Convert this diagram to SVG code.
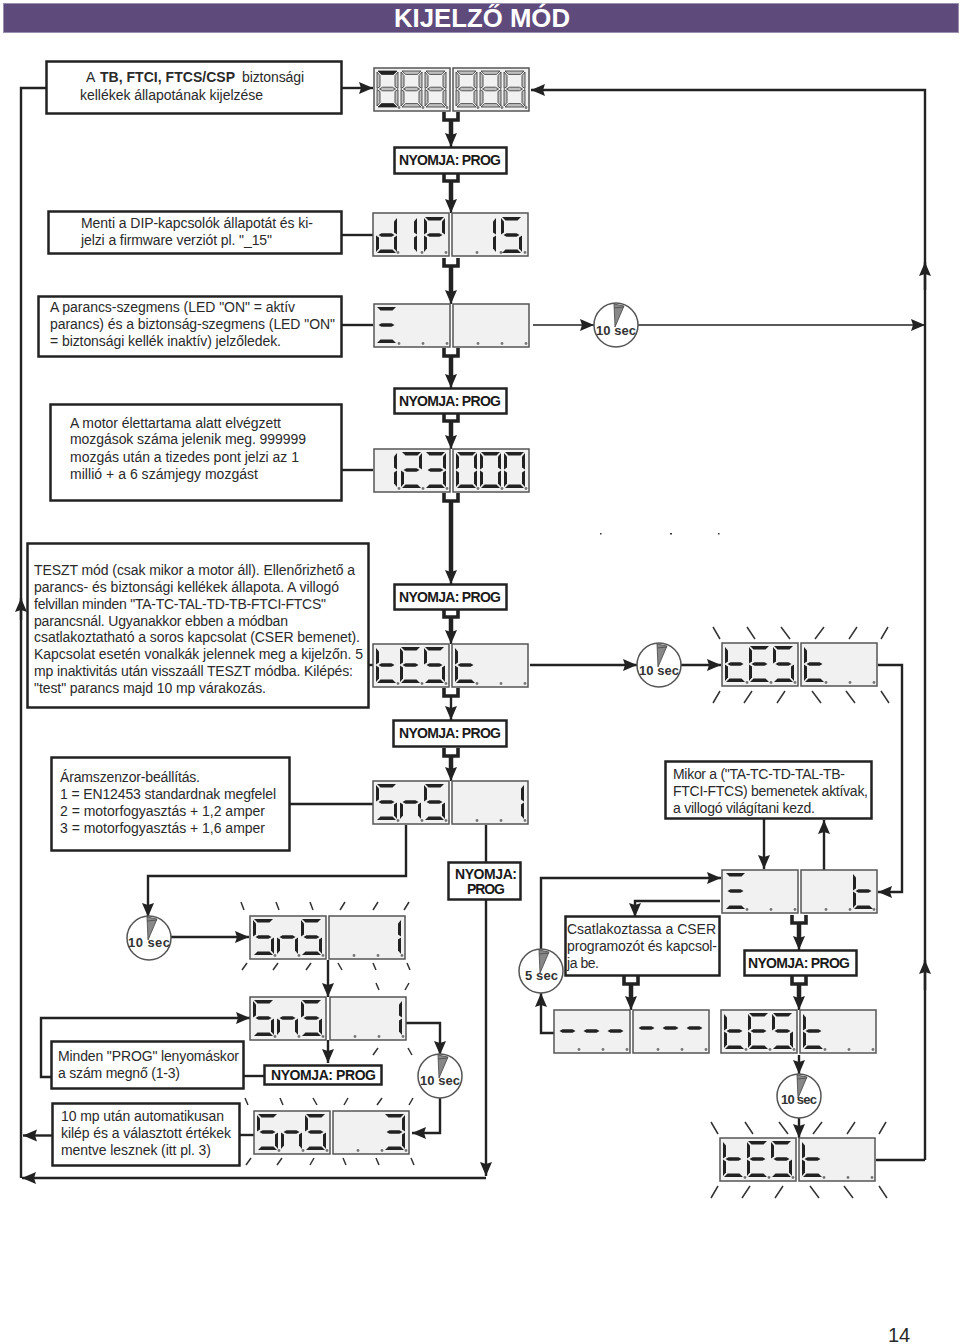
<svg xmlns="http://www.w3.org/2000/svg" width="960" height="1344" viewBox="0 0 960 1344">
<style>
text{font-family:"Liberation Sans",Arial,sans-serif;fill:#2a2a2a;font-size:14px}
.title{font-size:25px;font-weight:bold;fill:#fff}
.btn{font-size:14px;font-weight:bold;fill:#1a1a1a}
.box{fill:#fff;stroke:#222;stroke-width:2.5}
.panel{fill:#f1f1f1;stroke:#555;stroke-width:1.5}
.dot{fill:#777}
.seg{fill:#222}
.gs{fill:#c0c0c0;stroke:#333;stroke-width:.8}
.ln{fill:none;stroke:#222;stroke-width:2.4}
.thin{fill:none;stroke:#222;stroke-width:1.6}
.th{fill:none;stroke:#222;stroke-width:4.5}
.uu{fill:none;stroke:#222;stroke-width:3.6}
.tick{fill:none;stroke:#333;stroke-width:1.5}
.clk{fill:#fff;stroke:#555;stroke-width:1.5}
.wd{fill:#888;stroke:#444;stroke-width:.8}
.sec{font-size:13px;font-weight:bold;fill:#333}
</style>
<defs>
<marker id="a" markerUnits="userSpaceOnUse" markerWidth="15" markerHeight="13" refX="14" refY="6" orient="auto"><path d="M0,0L14,6L0,12L2,6Z" fill="#222"/></marker>
<path id="sa" d="M1,0H20L16.500,3.400H4.500Z"/><path id="sd" d="M1,36H20L16.500,32.600H4.500Z"/><path id="sg" d="M2.500,18L5.500,16.200H15.500L18.500,18L15.500,19.800H5.500Z"/>
<path id="sf" d="M0,1L3,4.500V15.500L0,17.500Z"/><path id="sb" d="M21,1L18,4.500V15.500L21,17.500Z"/>
<path id="se" d="M0,18.500L3,20.500V31.500L0,35Z"/><path id="sc" d="M21,18.500L18,20.500V31.500L21,35Z"/>
<g id="dt" class="seg"><use href="#sf"/><use href="#se"/><use href="#sg"/><use href="#sd"/></g>
<g id="dE" class="seg"><use href="#sa"/><use href="#sf"/><use href="#se"/><use href="#sg"/><use href="#sd"/></g>
<g id="d5" class="seg"><use href="#sa"/><use href="#sf"/><use href="#sc"/><use href="#sg"/><use href="#sd"/></g>
<g id="dn" class="seg"><use href="#se"/><use href="#sc"/><use href="#sg"/></g>
<g id="dd" class="seg"><use href="#sb"/><use href="#sc"/><use href="#se"/><use href="#sg"/><use href="#sd"/></g>
<g id="dP" class="seg"><use href="#sa"/><use href="#sb"/><use href="#sf"/><use href="#se"/><use href="#sg"/></g>
<g id="d1" class="seg"><use href="#sb"/><use href="#sc"/></g>
<g id="d2" class="seg"><use href="#sa"/><use href="#sb"/><use href="#se"/><use href="#sg"/><use href="#sd"/></g>
<g id="d3" class="seg"><use href="#sa"/><use href="#sb"/><use href="#sc"/><use href="#sg"/><use href="#sd"/></g>
<g id="d0" class="seg"><use href="#sa"/><use href="#sb"/><use href="#sc"/><use href="#sd"/><use href="#se"/><use href="#sf"/></g>
<g id="dx" class="seg"><use href="#sa"/><use href="#sg"/><use href="#sd"/></g>
<g id="dm" class="seg"><use href="#sg"/></g>
<g id="d8" class="gs"><use href="#sa"/><use href="#sb"/><use href="#sc"/><use href="#sd"/><use href="#se"/><use href="#sf"/><use href="#sg"/></g>
<g id="pn"><rect class="panel" x="0" y="0" width="76" height="43"/><circle class="dot" cx="25" cy="39.500" r="1.400"/><circle class="dot" cx="49" cy="39.500" r="1.400"/><circle class="dot" cx="73" cy="39.500" r="1.400"/></g>
<path id="u" class="uu" d="M-7,0V8H7V0"/>
<g id="clock"><circle class="clk" r="22"/><path class="wd" d="M-1,2L-2,-21L8,-19Z"/><path d="M-2,-17L8,-18" stroke="#555" fill="none"/></g>
<g id="tk"><path class="tick" d="M-9,-16L-2,-4M25,-16L33,-4M59,-16L68,-4M102,-16L93,-4M135,-16L127,-4M166,-16L159,-4M-2,48L-9,60M30,48L22,60M63,48L55,60M90,48L99,60M124,48L133,60M159,48L167,60"/></g>
</defs>

<rect id="header" x="3.500" y="3.500" width="955" height="29" fill="#5f4a7c" stroke="#9a90ad"/>
<text class="title" x="394" y="27" textLength="176" lengthAdjust="spacingAndGlyphs">KIJELZŐ MÓD</text>

<g id="connectors">
<path class="ln" d="M46,88H21V1178"/>
<path class="ln" d="M21,620V598" marker-end="url(#a)"/>
<path class="ln" d="M486,1178H22" marker-end="url(#a)"/>
<path class="ln" d="M52,1135.500H23" marker-end="url(#a)"/>
<path class="ln" d="M342,88H373" marker-end="url(#a)"/>
<path class="ln" d="M925,1160V90H531" marker-end="url(#a)"/>
<path class="ln" d="M876,1160H925"/>
<path class="ln" d="M925,290V262" marker-end="url(#a)"/>
<path class="ln" d="M925,990V960" marker-end="url(#a)"/>
<use href="#u" x="451" y="112"/><path class="th" d="M451,120V136"/><path class="ln" d="M451,135V147" marker-end="url(#a)"/>
<use href="#u" x="451" y="173"/><path class="th" d="M451,181V202"/><path class="ln" d="M451,200V213" marker-end="url(#a)"/>
<path class="ln" d="M342,235H373"/>
<use href="#u" x="451" y="258"/><path class="th" d="M451,266V293"/><path class="ln" d="M451,290V304" marker-end="url(#a)"/>
<path class="ln" d="M342,325H373"/>
<path class="thin" d="M533,325H594" marker-end="url(#a)"/>
<path class="thin" d="M638,325H925" marker-end="url(#a)"/>
<use href="#u" x="451" y="348"/><path class="th" d="M451,356V377"/><path class="ln" d="M451,375V388" marker-end="url(#a)"/>
<use href="#u" x="451" y="413"/><path class="th" d="M451,421V438"/><path class="ln" d="M451,436V449" marker-end="url(#a)"/>
<path class="ln" d="M342,470H373"/>
<use href="#u" x="451" y="493"/><path class="th" d="M451,501V573"/><path class="ln" d="M451,570V584" marker-end="url(#a)"/>
<use href="#u" x="451" y="609"/><path class="th" d="M451,617V633"/><path class="ln" d="M451,630V644" marker-end="url(#a)"/>
<path class="ln" d="M369,665H373"/>
<path class="ln" d="M530,665H637" marker-end="url(#a)"/>
<path class="ln" d="M681,665H721" marker-end="url(#a)"/>
<use href="#u" x="451" y="688"/><path class="ln" d="M451,696V720" marker-end="url(#a)"/>
<use href="#u" x="451" y="748"/><path class="th" d="M451,756V770"/><path class="ln" d="M451,768V781" marker-end="url(#a)"/>
<path class="ln" d="M290,804H373"/>
<path class="ln" d="M406,825V876H148V917" marker-end="url(#a)"/>
<path class="ln" d="M486,825V862"/>
<path class="ln" d="M486,900V1176" marker-end="url(#a)"/>
<path class="ln" d="M171,937H249" marker-end="url(#a)"/>
<path class="ln" d="M328,960V997" marker-end="url(#a)"/>
<path class="ln" d="M328,1040V1063" marker-end="url(#a)"/>
<path class="ln" d="M244,1076H264"/>
<path class="ln" d="M51,1077H41V1018H250" marker-end="url(#a)"/>
<path class="ln" d="M406,1023H440V1055" marker-end="url(#a)"/>
<path class="ln" d="M440,1098V1133H412" marker-end="url(#a)"/>
<path class="ln" d="M240,1135H254"/>
<path class="ln" d="M764,819V869" marker-end="url(#a)"/>
<path class="ln" d="M824,870V820" marker-end="url(#a)"/>
<path class="ln" d="M878,665H902V892H878" marker-end="url(#a)"/>
<path class="ln" d="M541,950V878H721" marker-end="url(#a)"/>
<path class="ln" d="M720,901H635V917" marker-end="url(#a)"/>
<use href="#u" x="631" y="976"/><path class="th" d="M631,984V999"/><path class="ln" d="M631,997V1010" marker-end="url(#a)"/>
<path class="ln" d="M554,1033H541V993" marker-end="url(#a)"/>
<use href="#u" x="799" y="915"/><path class="th" d="M799,923V939"/><path class="ln" d="M799,937V950" marker-end="url(#a)"/>
<use href="#u" x="799" y="976"/><path class="th" d="M799,984V999"/><path class="ln" d="M799,997V1010" marker-end="url(#a)"/>
<path class="ln" d="M799,1055V1074" marker-end="url(#a)"/>
<path class="ln" d="M799,1117V1138" marker-end="url(#a)"/>
</g>

<g id="n-tb"><rect class="box" x="46.500" y="61.500" width="295" height="52"/>
<text x="86" y="82">A</text><text x="100" y="82" font-weight="bold" textLength="135">TB, FTCI, FTCS/CSP</text><text x="242" y="82" textLength="62">biztonsági</text>
<text x="80" y="100" textLength="183">kellékek állapotának kijelzése</text></g>

<g id="d-888" transform="translate(374,68)"><use href="#pn"/><use href="#pn" x="79"/>
<use href="#d8" x="3" y="3"/><use href="#d8" x="27" y="3"/><use href="#d8" x="51" y="3"/><use href="#d8" x="82" y="3"/><use href="#d8" x="106" y="3"/><use href="#d8" x="130" y="3"/>
<use href="#sa" x="3" y="3" class="seg"/><use href="#sd" x="3" y="3" class="seg"/></g>

<g id="b-prog1"><rect class="box" x="394.500" y="147.500" width="112" height="26"/><text class="btn" x="399" y="165" textLength="102">NYOMJA: PROG</text></g>

<g id="n-dip"><rect class="box" x="48.500" y="211.500" width="293" height="42"/>
<text x="81" y="228" textLength="232">Menti a DIP-kapcsolók állapotát és ki-</text>
<text x="81" y="245" textLength="191">jelzi a firmware verziót pl. "_15"</text></g>
<g id="d-dip" transform="translate(373,213)"><use href="#pn"/><use href="#pn" x="79"/>
<use href="#dd" x="3" y="4"/><use href="#d1" x="23" y="4"/><use href="#dP" x="51" y="4"/><use href="#d1" x="102" y="4"/><use href="#d5" x="128" y="4"/></g>

<g id="n-seg"><rect class="box" x="38.500" y="296.500" width="303" height="60"/>
<text x="50" y="312" textLength="245">A parancs-szegmens (LED "ON" = aktív</text>
<text x="50" y="329" textLength="285">parancs) és a biztonság-szegmens (LED "ON"</text>
<text x="50" y="346" textLength="231">= biztonsági kellék inaktív) jelzőledek.</text></g>
<g id="d-seg" transform="translate(374,304)"><use href="#pn"/><use href="#pn" x="79"/><use href="#dx" x="2" y="3"/></g>
<g id="clock1" transform="translate(616,325)"><use href="#clock"/><text class="sec" x="-20" y="10" textLength="40">10 sec</text></g>

<g id="b-prog2"><rect class="box" x="394.500" y="388.500" width="112" height="25"/><text class="btn" x="399" y="406" textLength="102">NYOMJA: PROG</text></g>

<g id="n-motor"><rect class="box" x="50.500" y="404.500" width="291" height="96"/>
<text x="70" y="428" textLength="211">A motor élettartama alatt elvégzett</text>
<text x="70" y="444" textLength="236">mozgások száma jelenik meg. 999999</text>
<text x="70" y="462" textLength="229">mozgás után a tizedes pont jelzi az 1</text>
<text x="70" y="479" textLength="188">millió + a 6 számjegy mozgást</text></g>
<g id="d-123" transform="translate(374,449)"><use href="#pn"/><use href="#pn" x="79"/>
<use href="#d1" x="2" y="3"/><use href="#d2" x="27" y="3"/><use href="#d3" x="51" y="3"/><use href="#d0" x="82" y="3"/><use href="#d0" x="106" y="3"/><use href="#d0" x="130" y="3"/></g>

<g id="specks" fill="#333"><rect x="600" y="533" width="1.500" height="1.500"/><rect x="670" y="533" width="2" height="1.500"/><rect x="718" y="533" width="1.500" height="1.500"/></g>

<g id="n-teszt"><rect class="box" x="27.500" y="543.500" width="341" height="164"/>
<text x="34" y="575" textLength="321">TESZT mód (csak mikor a motor áll). Ellenőrizhető a</text>
<text x="34" y="592" textLength="305">parancs- és biztonsági kellékek állapota. A villogó</text>
<text x="34" y="609" textLength="292">felvillan minden "TA-TC-TAL-TD-TB-FTCI-FTCS"</text>
<text x="34" y="626" textLength="254">parancsnál. Ugyanakkor ebben a módban</text>
<text x="34" y="642" textLength="326">csatlakoztatható a soros kapcsolat (CSER bemenet).</text>
<text x="34" y="659" textLength="329">Kapcsolat esetén vonalkák jelennek meg a kijelzőn. 5</text>
<text x="34" y="676" textLength="319">mp inaktivitás után visszaáll TESZT módba. Kilépés:</text>
<text x="34" y="693" textLength="232">"test" parancs majd 10 mp várakozás.</text></g>

<g id="b-prog3"><rect class="box" x="394.500" y="584.500" width="112" height="25"/><text class="btn" x="399" y="602" textLength="102">NYOMJA: PROG</text></g>
<g id="d-test1" transform="translate(373,644)"><use href="#pn"/><use href="#pn" x="79"/>
<use href="#dt" x="3" y="3"/><use href="#dE" x="27" y="3"/><use href="#d5" x="51" y="3"/><use href="#dt" x="82" y="3"/></g>
<g id="clock2" transform="translate(659,665)"><use href="#clock"/><text class="sec" x="-20" y="10" textLength="40">10 sec</text></g>
<g id="d-test2" transform="translate(722,643)"><use href="#tk"/><use href="#pn"/><use href="#pn" x="79"/>
<use href="#dt" x="3" y="3"/><use href="#dE" x="27" y="3"/><use href="#d5" x="51" y="3"/><use href="#dt" x="82" y="3"/></g>

<g id="b-prog4"><rect class="box" x="393.500" y="720.500" width="113" height="26"/><text class="btn" x="399" y="738" textLength="102">NYOMJA: PROG</text></g>

<g id="n-sens"><rect class="box" x="51.500" y="757.500" width="238" height="93"/>
<text x="60" y="782" textLength="140">Áramszenzor-beállítás.</text>
<text x="60" y="799" textLength="216">1 = EN12453 standardnak megfelel</text>
<text x="60" y="816" textLength="205">2 = motorfogyasztás + 1,2 amper</text>
<text x="60" y="833" textLength="205">3 = motorfogyasztás + 1,6 amper</text></g>
<g id="d-sn1" transform="translate(373,781)"><use href="#pn"/><use href="#pn" x="79"/>
<use href="#d5" x="3" y="3"/><use href="#dn" x="27" y="3"/><use href="#d5" x="51" y="3"/><use href="#d1" x="130" y="3"/></g>

<g id="b-prog5"><rect class="box" x="448.500" y="862.500" width="72" height="37"/><text class="btn" x="455" y="879" textLength="62">NYOMJA:</text><text class="btn" x="467" y="894" textLength="38">PROG</text></g>

<g id="n-mikor"><rect class="box" x="665.500" y="761.500" width="206" height="57"/>
<text x="673" y="779" textLength="172">Mikor a ("TA-TC-TD-TAL-TB-</text>
<text x="673" y="796" textLength="195">FTCI-FTCS) bemenetek aktívak,</text>
<text x="673" y="813" textLength="142">a villogó világítani kezd.</text></g>

<g id="d-xt" transform="translate(722,870)"><use href="#pn"/><use href="#pn" x="79"/><use href="#dx" x="3" y="3"/><use href="#dt" x="131" y="3"/></g>

<g id="clock3" transform="translate(149,938)"><use href="#clock"/><text class="sec" x="-21" y="9" textLength="42">10 sec</text></g>
<g id="d-sn2" transform="translate(250,916)"><path class="tick" d="M-9,-14L-6,-6M26,-14L29,-6M60,-14L63,-6M95,-14L90,-6M128,-14L123,-6M159,-14L154,-6M-3,47L-8,54M28,47L23,54M61,47L56,54M88,47L92,54M123,47L126,54M157,47L160,54"/><use href="#pn"/><use href="#pn" x="79"/>
<use href="#d5" x="3" y="3"/><use href="#dn" x="27" y="3"/><use href="#d5" x="51" y="3"/><use href="#d1" x="130" y="3"/></g>

<g id="n-csat"><rect class="box" x="565.500" y="916.500" width="154" height="59"/>
<text x="567" y="934" textLength="149">Csatlakoztassa a CSER</text>
<text x="567" y="951" textLength="150">programozót és kapcsol-</text>
<text x="567" y="968" textLength="32">ja be.</text></g>
<g id="clock4" transform="translate(541,971)"><use href="#clock"/><text class="sec" x="-16" y="9" textLength="33">5 sec</text></g>
<g id="b-prog6"><rect class="box" x="744.500" y="950.500" width="112" height="25"/><text class="btn" x="748" y="968" textLength="102">NYOMJA: PROG</text></g>

<g id="d-sn3" transform="translate(250,997)"><path class="tick" d="M126,-14L129,-7M159,-14L155,-7M128,51L123,58M158,51L162,58"/><use href="#pn"/><use href="#pn" x="80"/>
<use href="#d5" x="3" y="3"/><use href="#dn" x="27" y="3"/><use href="#d5" x="51" y="3"/><use href="#d1" x="131" y="3"/></g>

<g id="d-dash" transform="translate(554,1010)"><use href="#pn"/><use href="#pn" x="79"/>
<use href="#dm" x="3" y="3"/><use href="#dm" x="27" y="3"/><use href="#dm" x="51" y="3"/><use href="#dm" x="82" y="0"/><use href="#dm" x="106" y="0"/><use href="#dm" x="130" y="0"/></g>
<g id="d-test3" transform="translate(721,1010)"><use href="#pn"/><use href="#pn" x="79"/>
<use href="#dt" x="3" y="3"/><use href="#dE" x="27" y="3"/><use href="#d5" x="51" y="3"/><use href="#dt" x="82" y="3"/></g>

<g id="n-minden"><rect class="box" x="51.500" y="1041.500" width="192" height="47"/>
<text x="58" y="1061" textLength="181">Minden "PROG" lenyomáskor</text>
<text x="58" y="1078" textLength="122">a szám megnő (1-3)</text></g>
<g id="b-prog7"><rect class="box" x="264.500" y="1065.500" width="117" height="19"/><text class="btn" x="271" y="1080" textLength="105">NYOMJA: PROG</text></g>
<g id="clock5" transform="translate(440,1076)"><use href="#clock"/><text class="sec" x="-20" y="9" textLength="40">10 sec</text></g>
<g id="clock6" transform="translate(799,1096)"><use href="#clock"/><text class="sec" x="-18" y="8" textLength="36">10 sec</text></g>

<g id="n-10mp"><rect class="box" x="52.500" y="1103.500" width="187" height="62"/>
<text x="61" y="1121" textLength="163">10 mp után automatikusan</text>
<text x="61" y="1138" textLength="170">kilép és a választott értékek</text>
<text x="61" y="1155" textLength="150">mentve lesznek (itt pl. 3)</text></g>
<g id="d-sn4" transform="translate(254,1111)"><path class="tick" d="M-9,-13L-6,-6M26,-13L29,-6M59,-13L63,-6M94,-13L90,-6M128,-13L123,-6M159,-13L155,-6M-3,47L-8,54M28,47L23,54M60,47L56,54M89,47L92,54M122,47L125,54M157,47L160,54"/><use href="#pn"/><use href="#pn" x="79"/>
<use href="#d5" x="3" y="3"/><use href="#dn" x="27" y="3"/><use href="#d5" x="51" y="3"/><use href="#d3" x="130" y="3"/></g>

<g id="d-test4" transform="translate(720,1138)"><use href="#tk"/><use href="#pn"/><use href="#pn" x="79"/>
<use href="#dt" x="3" y="3"/><use href="#dE" x="27" y="3"/><use href="#d5" x="51" y="3"/><use href="#dt" x="82" y="3"/></g>

<text id="page" x="888" y="1342" style="font-size:20px" textLength="22">14</text>
</svg>
